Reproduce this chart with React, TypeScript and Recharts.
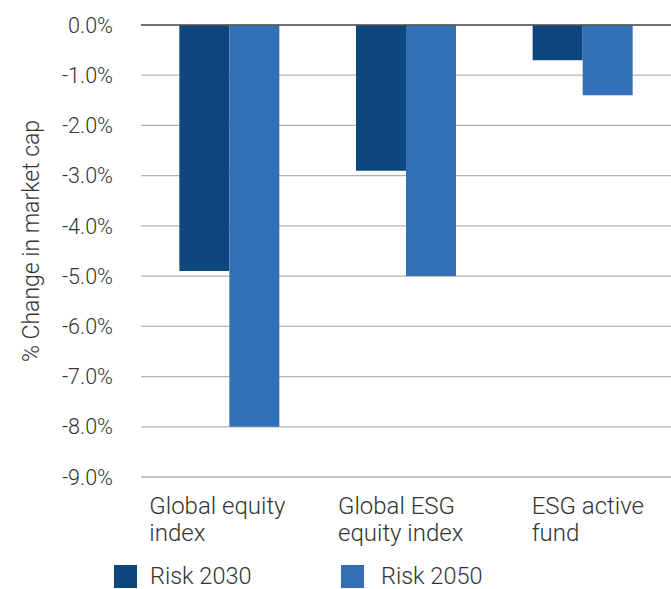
import { BarChart, Bar, XAxis, YAxis, CartesianGrid, ReferenceLine, Legend } from 'recharts';

const categories = ['Global equity\nindex', 'Global ESG\nequity index', 'ESG active\nfund'];
const risk2030 = [-4.9, -2.9, -0.7];
const risk2050 = [-8.0, -5.0, -1.4];
const yTicks = [0, -1, -2, -3, -4, -5, -6, -7, -8, -9];
const seriesNames = ['Risk 2030', 'Risk 2050'];

const DARK = '#0e467e';
const LIGHT = '#3271b7';
const TEXT = '#333333';
const FONT = 'Roboto, "Noto Sans", sans-serif';

const chartData = categories.map((name, i) => ({
    name,
    r2030: risk2030[i],
    r2050: risk2050[i],
}));

// label start offsets relative to the category centre
const labelShift = [-80, -68, -51];

const CategoryTick = ({ x, y, payload, index }: any) => {
    const lines = String(payload.value).split('\n');
    return (
        <text
            x={x + labelShift[index]}
            y={y}
            fill={TEXT}
            fontSize={24}
            fontWeight={300}
            fontFamily={FONT}
            textAnchor="start"
        >
            {lines.map((line, i) => (
                <tspan key={i} x={x + labelShift[index]} dy={i === 0 ? 29 : 26.5}>
                    {line}
                </tspan>
            ))}
        </text>
    );
};

const YLabel = ({ viewBox }: any) => {
    const cy = viewBox.y + viewBox.height / 2 - 10;
    return (
        <text
            x={31}
            y={cy}
            transform={`rotate(-90 31 ${cy})`}
            textAnchor="middle"
            dominantBaseline="central"
            fill={TEXT}
            fontSize={23}
            fontWeight={300}
            fontFamily={FONT}
        >
            % Change in market cap
        </text>
    );
};

const LegendContent = () => (
    <div style={{ position: 'relative', height: 36, fontFamily: FONT, fontWeight: 300, fontSize: 23.5, color: TEXT }}>
        {[DARK, LIGHT].map((c, i) => (
            <div
                key={i}
                style={{ position: 'absolute', left: i === 0 ? 114 : 341, top: 12, display: 'flex', alignItems: 'center' }}
            >
                <span style={{ width: 23, height: 23, background: c, display: 'inline-block' }} />
                <span style={{ marginLeft: i === 0 ? 13 : 17, lineHeight: '23px' }}>{seriesNames[i]}</span>
            </div>
        ))}
    </div>
);

const App = () => {
    return (
        <div style={{ position: 'absolute', left: 0, top: 0, width: 671, height: 589, background: '#fff' }}>
            <BarChart
                width={671}
                height={589}
                data={chartData}
                margin={{ top: 25, right: 0, left: 0, bottom: 0 }}
                barGap={0}
                barCategoryGap="21.7%"
            >
                <CartesianGrid horizontal vertical={false} stroke="#b3b3b3" strokeWidth={1.3} />
                <XAxis
                    dataKey="name"
                    height={76}
                    axisLine={false}
                    tickLine={false}
                    interval={0}
                    tick={<CategoryTick />}
                />
                <YAxis
                    width={141}
                    domain={[-9, 0]}
                    ticks={yTicks}
                    interval={0}
                    axisLine={false}
                    tickLine={false}
                    tickMargin={22}
                    tickFormatter={(v: number) => v.toFixed(1) + '%'}
                    tick={{ fill: TEXT, fontSize: 21.5, fontWeight: 300, fontFamily: FONT }}
                    label={<YLabel />}
                />
                <Legend verticalAlign="bottom" height={36} content={<LegendContent />} wrapperStyle={{ left: 0, width: 671 }} />
                <Bar dataKey="r2030" name={seriesNames[0]} fill={DARK} isAnimationActive={false} />
                <Bar dataKey="r2050" name={seriesNames[1]} fill={LIGHT} isAnimationActive={false} />
                <ReferenceLine y={0} stroke="#555555" strokeWidth={1.5} />
            </BarChart>
        </div>
    );
};

export default App;
